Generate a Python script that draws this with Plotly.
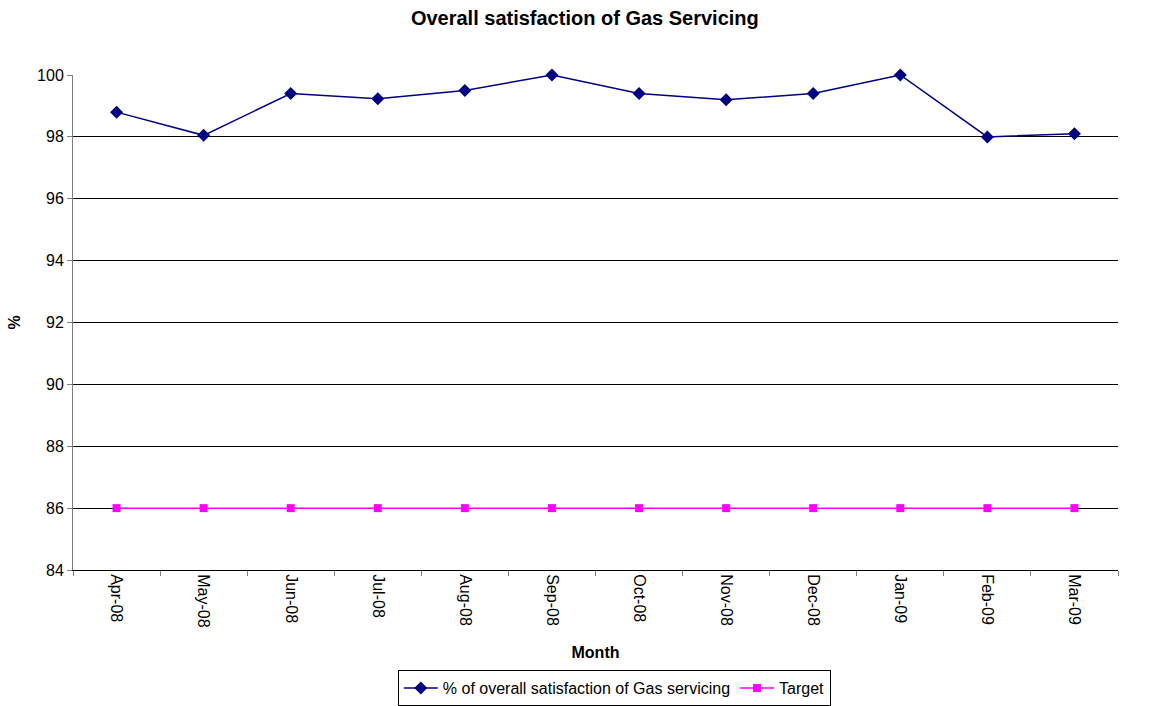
import plotly.graph_objects as go

months = ["Apr-08", "May-08", "Jun-08", "Jul-08", "Aug-08", "Sep-08",
          "Oct-08", "Nov-08", "Dec-08", "Jan-09", "Feb-09", "Mar-09"]
satisfaction = [98.8, 98.05, 99.4, 99.23, 99.5, 100.0,
                99.4, 99.2, 99.4, 100.0, 98.0, 98.1]
target = [86, 86, 86, 86, 86, 86, 86, 86, 86, 86, 86, 86]

FONT = "Liberation Sans, Arial, sans-serif"

fig = go.Figure()
fig.add_trace(go.Scatter(
    x=months, y=satisfaction, mode="lines+markers",
    name="% of overall satisfaction of Gas servicing",
    line=dict(color="#000080", width=1.5),
    marker=dict(symbol="diamond", size=10, color="#000080"),
    cliponaxis=False,
))
fig.add_trace(go.Scatter(
    x=months, y=target, mode="lines+markers", name="Target",
    line=dict(color="#FF00FF", width=1.5),
    marker=dict(symbol="square", size=8, color="#FF00FF"),
    cliponaxis=False,
))

fig.update_layout(
    width=1149, height=706,
    margin=dict(l=73, r=31, t=75, b=136, autoexpand=False),
    paper_bgcolor="white", plot_bgcolor="white",
    font=dict(family=FONT, size=16, color="black"),
    title=dict(text="<b>Overall satisfaction of Gas Servicing</b>",
               x=0.509, xanchor="center", y=0.9745, yanchor="middle",
               font=dict(size=20, family=FONT)),
    showlegend=True,
    legend=dict(orientation="h", x=0.518, xanchor="center",
                yref="container", y=0.0, yanchor="bottom",
                bordercolor="black", borderwidth=1,
                font=dict(size=16, family=FONT),
                itemwidth=34, tracegroupgap=0),
)

fig.update_xaxes(
    type="category", range=[-0.5, 11.5],
    tickson="boundaries", ticks="outside", ticklen=5, tickcolor="#808080",
    tickangle=90, showgrid=False, automargin=False,
    showline=True, linecolor="black", linewidth=1,
    title=dict(text="<b>Month</b>", font=dict(size=16, family=FONT), standoff=20),
)
fig.update_yaxes(
    range=[84, 100], dtick=2, tick0=84,
    ticks="outside", ticklen=5, tickcolor="#808080",
    showgrid=True, gridcolor="black", gridwidth=1,
    showline=True, linecolor="#808080", linewidth=1,
    zeroline=False, automargin=False,
    title=dict(text="<b>%</b>", font=dict(size=16, family=FONT), standoff=12),
)

fig.write_html("out.html")
